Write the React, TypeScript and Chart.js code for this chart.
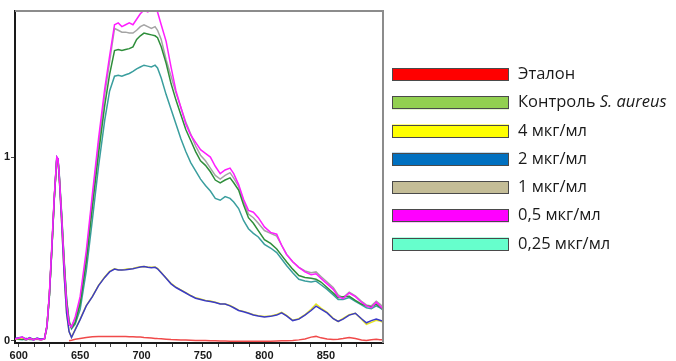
import React, { useEffect, useRef } from 'react';
import { Chart, registerables } from 'chart.js';

Chart.register(...registerables);

// Wavelength grid (nm)
const wavelengths = [597,603,606,609,612,615,618,621,623,625,627,629,631,632,633,635,637,639,641,643,646,650,655,660,665,670,674,678,681,684,687,690,693,696,699,702,705,708,711,713,716,720,724,728,732,736,740,744,748,752,756,760,764,768,772,775,779,783,787,791,795,800,805,810,814,818,823,828,833,838,842,846,851,856,860,864,869,874,879,883,887,891,894,897];

const etalon = [null,null,null,null,null,null,null,null,null,null,null,null,null,null,null,null,null,null,0.0,
  0.003,0.008,0.013,0.018,0.022,0.024,0.024,0.023,0.023,
  0.024,0.023,0.023,0.022,0.022,0.021,0.020,0.018,0.017,0.015,0.013,0.012,0.011,
  0.009,0.007,0.006,0.005,0.004,0.003,0.002,0.002,0.001,0.0,0.0,-0.001,-0.001,-0.002,
  -0.002,-0.003,-0.003,-0.003,-0.002,-0.003,-0.003,-0.002,-0.001,0.0,0.0,0.002,0.005,0.010,0.020,0.024,0.016,0.010,0.007,0.008,0.012,0.018,0.012,0.004,0.002,0.006,0.008,0.006,0.005];

const controlSA = [0.008,0.010,0.005,0.012,0.007,0.010,0.005,0.010,
  0.08,0.25,0.51,0.78,0.99,0.98,0.90,0.68,0.43,0.22,0.10,
  0.07,0.10,0.20,0.43,0.73,1.02,1.28,1.45,1.58,
  1.585,1.58,1.585,1.59,1.60,1.64,1.66,1.675,1.67,1.665,1.66,1.65,1.60,
  1.51,1.40,1.31,1.23,1.15,1.09,1.03,0.98,0.955,0.92,0.875,0.86,0.875,0.887,
  0.86,0.82,0.74,0.67,0.64,0.60,0.55,0.53,0.50,0.465,0.43,0.39,0.355,0.345,0.34,0.335,0.32,0.29,0.26,0.235,0.24,0.243,0.22,0.20,0.19,0.185,0.20,0.185,0.17];

const mcg4 = [0.010,0.015,0.010,0.014,0.008,0.012,0.006,0.011,
  0.08,0.25,0.50,0.78,0.99,0.98,0.89,0.64,0.36,0.15,0.05,
  0.02,0.062,0.118,0.192,0.242,0.302,0.347,0.378,0.392,
  0.387,0.386,0.389,0.392,0.394,0.399,0.403,0.405,0.402,0.400,0.401,0.394,0.372,
  0.342,0.312,0.292,0.277,0.262,0.247,0.234,0.227,0.220,0.216,0.210,0.202,0.200,0.192,
  0.182,0.167,0.160,0.152,0.142,0.137,0.132,0.135,0.143,0.155,0.138,0.112,0.120,0.142,0.172,0.200,0.178,0.155,0.122,0.105,0.122,0.142,0.150,0.118,0.090,0.100,0.112,0.108,0.100];

const mcg2 = [0.012,0.020,0.008,0.018,0.006,0.015,0.008,0.012,
  0.08,0.25,0.50,0.78,1.00,0.99,0.89,0.64,0.36,0.15,0.05,
  0.018,0.06,0.115,0.19,0.24,0.30,0.345,0.375,0.39,
  0.385,0.385,0.387,0.39,0.392,0.397,0.402,0.404,0.40,0.398,0.40,0.392,0.37,
  0.34,0.31,0.29,0.275,0.26,0.245,0.232,0.225,0.218,0.214,0.208,0.20,0.20,0.19,
  0.18,0.165,0.158,0.15,0.14,0.135,0.13,0.133,0.14,0.152,0.135,0.11,0.118,0.14,0.165,0.189,0.172,0.152,0.12,0.105,0.118,0.14,0.15,0.12,0.098,0.11,0.118,0.112,0.105];

const mcg1 = [0.012,0.008,0.014,0.006,0.010,0.007,0.010,0.011,
  0.08,0.25,0.50,0.78,0.99,0.98,0.90,0.67,0.42,0.21,0.10,
  0.08,0.12,0.22,0.46,0.77,1.07,1.34,1.52,1.70,
  1.69,1.68,1.68,1.675,1.675,1.69,1.71,1.72,1.71,1.70,1.71,1.69,1.64,
  1.53,1.44,1.35,1.27,1.19,1.125,1.06,1.01,0.98,0.94,0.90,0.88,0.90,0.915,
  0.885,0.84,0.76,0.69,0.67,0.64,0.60,0.585,0.57,0.52,0.47,0.43,0.40,0.38,0.37,0.375,0.35,0.32,0.29,0.25,0.235,0.265,0.245,0.215,0.195,0.19,0.215,0.20,0.18];

const mcg05 = [0.010,0.020,0.006,0.015,0.005,0.012,0.004,0.012,
  0.08,0.26,0.52,0.79,1.00,0.99,0.90,0.67,0.41,0.20,0.09,
  0.075,0.13,0.24,0.49,0.80,1.10,1.37,1.55,1.72,
  1.73,1.71,1.72,1.73,1.72,1.75,1.78,1.80,1.79,1.80,1.80,1.79,1.72,
  1.63,1.49,1.36,1.27,1.18,1.12,1.08,1.04,1.02,1.00,0.95,0.91,0.93,0.94,
  0.91,0.85,0.77,0.71,0.70,0.67,0.62,0.59,0.58,0.52,0.47,0.43,0.40,0.375,0.36,0.365,0.34,0.31,0.28,0.24,0.23,0.26,0.24,0.21,0.19,0.18,0.21,0.19,0.17];

const mcg025 = [0.010,0.006,0.012,0.008,0.005,0.011,0.007,0.010,
  0.07,0.24,0.50,0.77,0.99,0.99,0.91,0.69,0.44,0.23,0.11,
  0.065,0.09,0.17,0.38,0.66,0.95,1.20,1.36,1.44,
  1.445,1.44,1.448,1.455,1.466,1.48,1.49,1.50,1.495,1.49,1.50,1.485,1.43,
  1.34,1.26,1.18,1.10,1.03,0.97,0.925,0.88,0.845,0.815,0.775,0.765,0.785,0.775,
  0.755,0.72,0.655,0.61,0.585,0.565,0.525,0.505,0.48,0.445,0.41,0.37,0.335,0.325,0.32,0.325,0.305,0.28,0.25,0.225,0.225,0.235,0.215,0.195,0.18,0.175,0.19,0.18,0.165];

const seriesLabels = ['Эталон', 'Контроль S. aureus', '4 мкг/мл', '2 мкг/мл', '1 мкг/мл', '0,5 мкг/мл', '0,25 мкг/мл'];
const lineColors = ['#f04a4a', '#2e8e3a', '#e6e61e', '#3a3ac8', '#a4a4a4', '#ff1eff', '#3a9e9e'];
const legendColors = ['#ff0000', '#92d050', '#ffff00', '#0070c0', '#c4bd97', '#ff00ff', '#66ffcc'];
const drawOrder = [6, 3, 2, 1, 4, 0, 5];

const xTickValues = [600, 612.5, 625, 637.5, 650, 662.5, 675, 687.5, 700, 712.5, 725, 737.5, 750, 762.5, 775, 787.5, 800, 812.5, 825, 837.5, 850, 862.5, 875, 887.5];
const xTickLabels = [600, 650, 700, 750, 800, 850];
const yTickLabels = [0, 1];

const ITALIC_PART = 'S. aureus';

const framePlugin = {
  id: 'frame',
  afterDatasetsDraw(chart: any) {
    const { ctx, chartArea: a } = chart;
    ctx.save();
    ctx.strokeStyle = '#8c8c8c';
    ctx.lineWidth = 2;
    ctx.beginPath();
    ctx.moveTo(a.left, a.top);
    ctx.lineTo(a.right, a.top);
    ctx.lineTo(a.right, a.bottom);
    ctx.stroke();
    ctx.restore();
  },
};

const sideLegendPlugin = {
  id: 'sideLegend',
  afterDraw(chart: any) {
    const ctx = chart.ctx;
    ctx.save();
    const boxX = 392;
    const boxW = 117;
    const boxH = 13;
    const firstY = 74.5;
    const step = 28.25;
    const textX = 518;
    chart.data.datasets.forEach((ds: any, i: number) => {
      const cy = firstY + i * step;
      ctx.fillStyle = legendColors[i];
      ctx.fillRect(boxX, cy - boxH / 2, boxW, boxH);
      ctx.strokeStyle = '#4a4a4a';
      ctx.lineWidth = 1;
      ctx.strokeRect(boxX + 0.5, Math.round(cy - boxH / 2) + 0.5, boxW - 1, boxH - 1);
      ctx.fillStyle = '#1a1a1a';
      ctx.textBaseline = 'middle';
      const label: string = ds.label;
      const normalFont = '16.5px "Open Sans", "Noto Sans", sans-serif';
      const italicFont = 'italic 16.5px "Open Sans", "Noto Sans", sans-serif';
      if (label.endsWith(ITALIC_PART)) {
        const base = label.slice(0, label.length - ITALIC_PART.length);
        ctx.font = normalFont;
        ctx.fillText(base, textX, cy);
        const w = ctx.measureText(base).width;
        ctx.font = italicFont;
        ctx.fillText(ITALIC_PART, textX + w, cy);
      } else {
        ctx.font = normalFont;
        ctx.fillText(label, textX, cy);
      }
    });
    ctx.restore();
  },
};

export default function App() {
  const canvasRef = useRef<HTMLCanvasElement>(null);

  useEffect(() => {
    const canvas = canvasRef.current;
    if (!canvas) return;
    const series = [etalon, controlSA, mcg4, mcg2, mcg1, mcg05, mcg025];
    const datasets = series.map((vals, i) => ({
      label: seriesLabels[i],
      data: vals.map((v, j) => ({ x: wavelengths[j], y: v })),
      borderColor: lineColors[i],
      backgroundColor: legendColors[i],
      borderWidth: 1.5,
      pointRadius: 0,
      tension: 0,
      fill: false,
      order: drawOrder[i],
    }));

    const tickFont = { family: '"Liberation Sans", Arial, sans-serif', size: 11, weight: 'bold' as const };

    const chart = new Chart(canvas, {
      type: 'line',
      data: { datasets },
      plugins: [framePlugin, sideLegendPlugin],
      options: {
        animation: false,
        responsive: false,
        maintainAspectRatio: false,
        layout: { padding: { top: 11, right: 293, left: 0, bottom: 0 } },
        plugins: { legend: { display: false }, tooltip: { enabled: false }, title: { display: false } },
        scales: {
          x: {
            type: 'linear',
            min: 597,
            max: 896.5,
            afterBuildTicks: (s: any) => {
              s.ticks = xTickValues.map((v) => ({ value: v }));
            },
            afterFit: (s: any) => {
              s.height = 18;
            },
            ticks: {
              autoSkip: false,
              maxRotation: 0,
              padding: 2,
              color: '#1a1a1a',
              font: tickFont,
              callback: (v: any) => (xTickLabels.includes(Number(v)) ? String(v) : ''),
            },
            grid: { drawOnChartArea: false, drawTicks: true, tickLength: 4, color: '#444' },
            border: { display: true, color: '#1a1a1a', width: 2 },
          },
          y: {
            type: 'linear',
            min: -0.012,
            max: 1.795,
            afterBuildTicks: (s: any) => {
              s.ticks = yTickLabels.map((v) => ({ value: v }));
            },
            afterFit: (s: any) => {
              s.width = 15;
            },
            ticks: {
              padding: 1,
              color: '#1a1a1a',
              font: tickFont,
              callback: (v: any) => String(v),
            },
            grid: { drawOnChartArea: false, drawTicks: true, tickLength: 4, color: '#444' },
            border: { display: true, color: '#1a1a1a', width: 2 },
          },
        },
      } as any,
    });
    return () => chart.destroy();
  }, []);

  return (
    <div style={{ position: 'absolute', left: 0, top: 0, width: 676, height: 361, background: '#fff' }}>
      <canvas ref={canvasRef} width={676} height={361} style={{ display: 'block' }} />
    </div>
  );
}
